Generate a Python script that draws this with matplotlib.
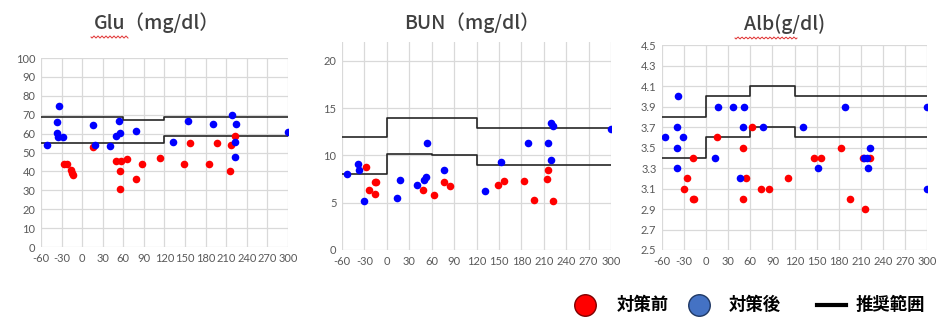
import matplotlib
matplotlib.use("Agg")
import matplotlib.pyplot as plt
from matplotlib.lines import Line2D
import numpy as np

plt.rcParams['font.family'] = ['Lato', 'DejaVu Sans']
plt.rcParams['axes.unicode_minus'] = False

# ---- data ----
x_ticks = list(range(-60, 301, 30))

# Glu (mg/dl)
glu_before_x = [16, -27, -22, -16, -15, -13, 49, 57, 65, 55, 55, 78, 87, 114, 148, 157, 185, 196, 215, 217, 223]
glu_before_y = [53, 44, 44, 41, 39, 38, 45.5, 45.5, 46.5, 40, 30.5, 36, 44, 47, 44, 55, 44, 55, 40, 54, 59]
glu_after_x = [-51, -34, -36, -36, -35, -28, 16, 18, 40, 53, 50, 55, 79, 133, 155, 190, 218, 224, 223, 223, 300]
glu_after_y = [54, 74.7, 66, 60.5, 58, 58, 64.5, 54, 53.5, 66.7, 59, 60.5, 61.4, 55.6, 66.7, 65, 70, 65, 55.6, 47.8, 61]
glu_hi_x = [-60, 60, 120, 300]
glu_hi_y = [69, 67, 69, 69]
glu_lo_x = [-60, 120, 300]
glu_lo_y = [55, 59, 59]

# BUN (mg/dl)
bun_before_x = [-28, -24, -16, -14, -16, 49, 63, 77, 85, 149, 157, 184, 197, 214, 216, 223]
bun_before_y = [8.8, 6.3, 7.2, 7.2, 5.95, 6.3, 5.8, 7.2, 6.8, 6.85, 7.35, 7.35, 5.3, 7.5, 8.45, 5.15]
bun_after_x = [-53, -38, -37, -30, 14, 17.5, 40, 50, 52, 54, 77, 131, 153, 189, 216, 220, 222.5, 220, 300]
bun_after_y = [8.0, 9.1, 8.5, 5.15, 5.5, 7.4, 6.9, 7.4, 7.7, 11.3, 8.5, 6.25, 9.3, 11.3, 11.3, 13.4, 13.1, 9.5, 12.8]
bun_hi_x = [-60, 0, 120, 300]
bun_hi_y = [12, 14, 12.9, 12.9]
bun_lo_x = [-60, 0, 60, 120, 300]
bun_lo_y = [8, 10.2, 10.05, 8.95, 8.95]

# Alb (g/dl)
alb_before_x = [-18, -26.5, -30.5, -18, -16, 14.7, 50.5, 54.6, 50.5, 62.3, 74, 85, 111, 147, 156, 183, 195, 213, 222, 216]
alb_before_y = [3.4, 3.2, 3.1, 3.0, 3.0, 3.6, 3.5, 3.2, 3.0, 3.7, 3.1, 3.1, 3.2, 3.4, 3.4, 3.5, 3.0, 3.4, 3.4, 2.9]
alb_after_x = [-56, -38, -40, -32, -40, -40, 12, 16, 36.5, 52, 50.5, 46.5, 77, 131, 151.5, 188, 215, 219, 222, 219.5, 300, 300]
alb_after_y = [3.6, 4.0, 3.7, 3.6, 3.5, 3.3, 3.4, 3.9, 3.9, 3.9, 3.7, 3.2, 3.7, 3.7, 3.3, 3.9, 3.4, 3.4, 3.5, 3.3, 3.9, 3.1]
alb_hi_x = [-60, 0, 60, 120, 300]
alb_hi_y = [3.8, 4.0, 4.1, 4.0, 4.0]
alb_lo_x = [-60, 0, 60, 120, 300]
alb_lo_y = [3.4, 3.6, 3.7, 3.6, 3.6]

legend_labels = ['対策前', '対策後', '推奨範囲']

RED = '#FF0000'
BLUE = '#0000FF'
GRID = '#D9D9D9'
TICK = '#595959'
JP = ['Noto Sans CJK JP', 'DejaVu Sans']
W, H = 938, 320

fig = plt.figure(figsize=(9.38, 3.2), dpi=100)


def panel(rect, bx, by, axx, ay, hx, hy, lx, ly, ylim, yticks, ylabels):
    ax = fig.add_axes(rect)
    ax.set_xlim(-60, 300)
    ax.set_ylim(*ylim)
    ax.set_xticks(x_ticks)
    ax.set_yticks(yticks)
    ax.set_yticklabels(ylabels)
    ax.grid(True, color=GRID, lw=0.9)
    ax.set_axisbelow(True)
    for s in ax.spines.values():
        s.set_visible(False)
    ax.tick_params(length=0, labelsize=8, labelcolor=TICK, pad=4)
    ax.step(hx, hy, where='post', color='#262626', lw=1.2, zorder=2)
    ax.step(lx, ly, where='post', color='#262626', lw=1.2, zorder=2)
    ax.scatter(bx, by, s=30, color=RED, zorder=3, linewidths=0)
    ax.scatter(axx, ay, s=30, color=BLUE, zorder=4, linewidths=0)
    return ax


panel([0.0437, 0.228, 0.2633, 0.5906], glu_before_x, glu_before_y, glu_after_x, glu_after_y,
      glu_hi_x, glu_hi_y, glu_lo_x, glu_lo_y, (0, 100), list(range(0, 101, 10)),
      [str(v) for v in range(0, 101, 10)])

yt2 = [0, 5, 10, 15, 20]
panel([0.3646, 0.21875, 0.2868, 0.65], bun_before_x, bun_before_y, bun_after_x, bun_after_y,
      bun_hi_x, bun_hi_y, bun_lo_x, bun_lo_y, (0, 22), yt2, [str(v) for v in yt2])

yt3 = [2.5, 2.7, 2.9, 3.1, 3.3, 3.5, 3.7, 3.9, 4.1, 4.3, 4.5]
panel([0.7058, 0.21875, 0.2825, 0.6406], alb_before_x, alb_before_y, alb_after_x, alb_after_y,
      alb_hi_x, alb_hi_y, alb_lo_x, alb_lo_y, (2.5, 4.5), yt3, ['%.1f' % v for v in yt3])

# titles
title_kw = dict(family=JP, fontsize=14, weight='medium', color='#404040', ha='center', va='center')
fig.text(157 / W, 1 - 23 / H, 'Glu（mg/dl）', **title_kw)
fig.text(472 / W, 1 - 23 / H, 'BUN（mg/dl）', **title_kw)
fig.text(785 / W, 1 - 24 / H, 'Alb(g/dl)', **title_kw)


# red spell-check squiggles under Glu / Alb(g/
def squiggle(x0, x1, ypx):
    xs = np.linspace(x0, x1, 60)
    ys = ypx + 1.0 * np.sin((xs - x0) / 4.0 * 2 * np.pi)
    fig.add_artist(Line2D(xs / W, 1 - ys / H, transform=fig.transFigure,
                          color='#E03030', lw=0.7))


squiggle(91, 128, 37)
squiggle(735, 797, 38)

# legend, placed by hand along the bottom right
ly = 1 - 305 / H
leg_kw = dict(family=JP, weight='bold', fontsize=12.5, color='black', va='center', ha='left')
fig.add_artist(Line2D([585 / W], [ly], ls='none', marker='o', markersize=15.5,
                      markerfacecolor=RED, markeredgecolor='#7F0000', markeredgewidth=1.0,
                      transform=fig.transFigure))
fig.text(617 / W, ly, legend_labels[0], **leg_kw)
fig.add_artist(Line2D([699 / W], [ly], ls='none', marker='o', markersize=15.5,
                      markerfacecolor='#4472C4', markeredgecolor='#1F3864', markeredgewidth=1.0,
                      transform=fig.transFigure))
fig.text(729 / W, ly, legend_labels[1], **leg_kw)
fig.add_artist(Line2D([817 / W, 846 / W], [ly, ly], color='black', lw=3,
                      transform=fig.transFigure))
fig.text(856 / W, ly, legend_labels[2], **leg_kw)

fig.savefig('out.png', dpi=100)
